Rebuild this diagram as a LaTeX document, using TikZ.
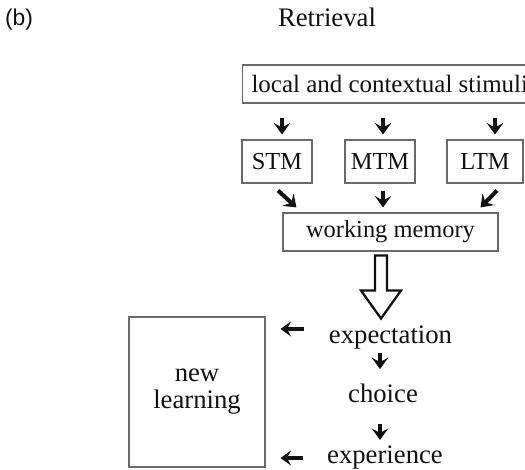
\documentclass[tikz,border=0pt]{standalone}
\usepackage{fontspec}
\setmainfont{Liberation Serif}
\setsansfont{Liberation Sans}
\usetikzlibrary{arrows.meta,calc}
\definecolor{ink}{HTML}{111111}
\definecolor{boxline}{HTML}{6A6A6A}

\begin{document}
\begin{tikzpicture}[
  x=0.02cm,y=-0.02cm,
  box/.style={draw=boxline,line width=0.6pt,inner sep=0pt,text=ink},
  uptext/.style={font=\fontsize{13.9}{16}\selectfont},
  lowtext/.style={font=\fontsize{15.2}{15.3}\selectfont,inner sep=0pt,text=ink},
  arr/.style={-{Stealth[length=2.3mm,width=3.3mm,inset=0.9mm]},line width=2.3pt,draw=ink},
  sidearr/.style={-{Stealth[length=2.1mm,width=3mm,inset=0.8mm]},line width=2.1pt,draw=ink},
  hollow/.style={draw=ink,line width=1.3pt,fill=white,line join=miter}
]
\useasboundingbox (0,0) rectangle (525,470);
\clip (0,0) rectangle (525,470);

% Headings.
\node[font=\sffamily\fontsize{13}{15}\selectfont,text=ink] (tag) at (19,20) {(b)};
\node[lowtext,anchor=base] (title) at (327,27) {Retrieval};

% -------------------------------------------------------------------------
% Stimuli and memory stores.
\node[box,font=\fontsize{14.2}{16}\selectfont,anchor=west,minimum height=0.76cm,
      inner xsep=0.18cm] (stim) at (242,84) {local and contextual stimuli};
\node[box,uptext,minimum width=1.4cm,minimum height=0.86cm] (stm) at (277,161.5) {STM};
\node[box,uptext,minimum width=1.4cm,minimum height=0.86cm] (mtm) at (380,161.5) {MTM};
\node[box,uptext,minimum width=1.52cm,minimum height=0.86cm] (ltm) at (485,161.5) {LTM};
\node[box,uptext,minimum width=4.3cm,minimum height=0.76cm] (wm) at (390.5,232) {working memory};

\draw[arr] ($(stim.south -| stm.north)+(5,14)$) -- ($(stm.north)+(5,-5)$);
\draw[arr] ($(stim.south -| mtm.north)+(3,14)$) -- ($(mtm.north)+(3,-5)$);
\draw[arr] ($(stim.south -| ltm.north)+(10,14)$) -- ($(ltm.north)+(10,-5)$);

\draw[arr] ($(stm.south)+(1,7)$) -- ($(wm.north west)+(14,-5)$);
\draw[arr] ($(mtm.south)+(3,7)$) -- ($(mtm.south |- wm.north)+(3,-5)$);
\draw[arr] ($(ltm.south)+(12,7)$) -- ($(wm.north east)+(-18,-5)$);

% -------------------------------------------------------------------------
% Retrieval sequence.
\node[lowtext,anchor=base] (expect) at (390.5,343) {expectation};
\node[lowtext,anchor=base] (choice) at (383,402) {choice};
\node[lowtext,anchor=base] (exper) at (385,463) {experience};
\node[box,lowtext,minimum width=2.72cm,minimum height=3cm,align=center]
  (learn) at (197,392) {new\\learning};

\coordinate (hollowtop) at ($(wm.south)+(-9.5,4)$);
\draw[hollow] (hollowtop) ++(-6,0) -- ++(0,35) -- ++(-14,0) -- ++(20,28)
  -- ++(20,-28) -- ++(-14,0) -- ++(0,-35) -- cycle;

\draw[arr] ($(expect.south -| choice.north)+(-3,4)$) -- ($(choice.north)+(-3,-14)$);
\draw[arr] ($(choice.south)+(-3,21)$) -- ($(choice.south |- exper.north)+(-3,-5)$);

\draw[sidearr] ($(expect.west)+(-25,-8)$) -- ($(expect.west -| learn.east)+(15,-8)$);
\draw[sidearr] ($(exper.west)+(-24,1)$) -- ($(exper.west -| learn.east)+(15,1)$);

\end{tikzpicture}
\end{document}
